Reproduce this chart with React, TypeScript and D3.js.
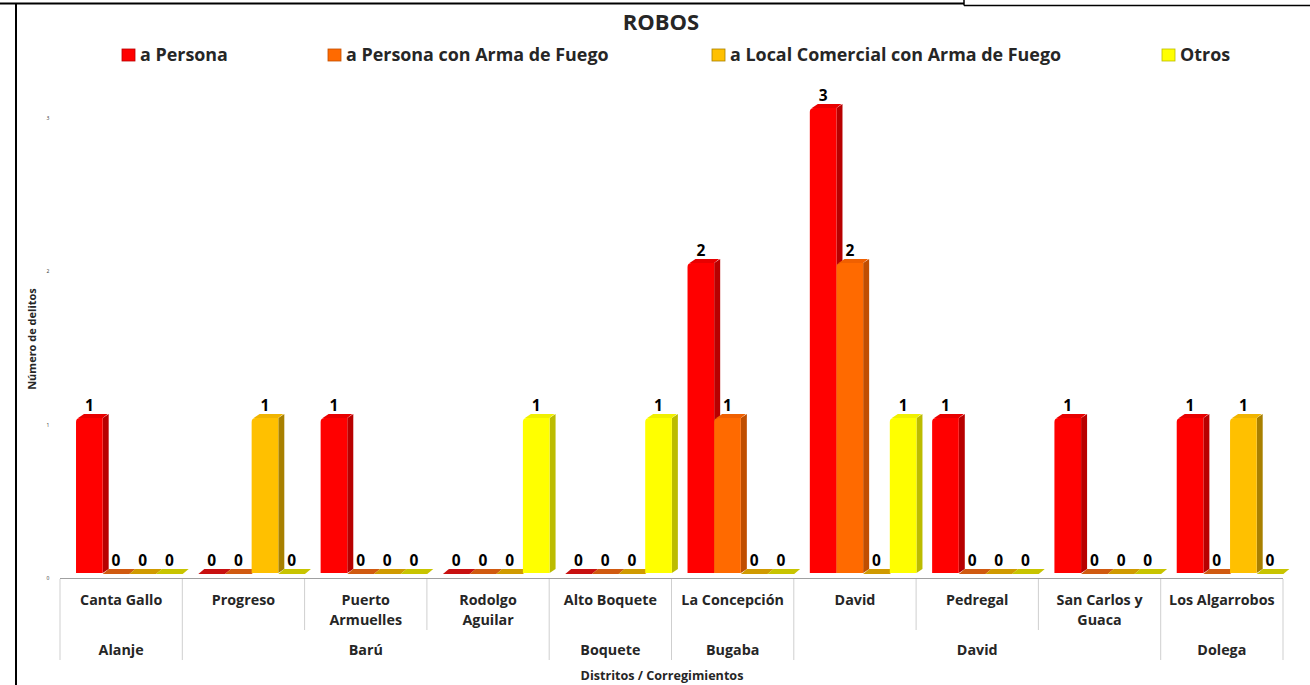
import React from 'react';
import * as d3 from 'd3';

// ---- data ----
const categories = [
  'Canta Gallo',
  'Progreso',
  'Puerto Armuelles',
  'Rodolgo Aguilar',
  'Alto Boquete',
  'La Concepción',
  'David',
  'Pedregal',
  'San Carlos y Guaca',
  'Los Algarrobos',
];
const categoryLines = [
  ['Canta Gallo'],
  ['Progreso'],
  ['Puerto', 'Armuelles'],
  ['Rodolgo', 'Aguilar'],
  ['Alto Boquete'],
  ['La Concepción'],
  ['David'],
  ['Pedregal'],
  ['San Carlos y', 'Guaca'],
  ['Los Algarrobos'],
];
const districts = ['Alanje', 'Barú', 'Boquete', 'Bugaba', 'David', 'Dolega'];
const districtSpans = [1, 3, 1, 1, 3, 1];

const seriesNames = [
  'a Persona',
  'a Persona con Arma de Fuego',
  'a Local Comercial con Arma de Fuego',
  'Otros',
];
const aPersona = [1, 0, 1, 0, 0, 2, 3, 1, 1, 1];
const aPersonaArma = [0, 0, 0, 0, 0, 1, 2, 0, 0, 0];
const localComercialArma = [0, 1, 0, 0, 0, 0, 0, 0, 0, 1];
const otros = [0, 0, 0, 1, 1, 0, 1, 0, 0, 0];
const seriesValues = [aPersona, aPersonaArma, localComercialArma, otros];

const yTicks = [0, 1, 2, 3];

// ---- styles ----
const frontColors = ['#ff0000', '#ff6a00', '#ffc000', '#ffff00'];
const sideColors = ['#b80000', '#c04e00', '#a88000', '#bcbc00'];
const topColors = ['#e80000', '#f06000', '#f0b400', '#f0f000'];
const zeroColors = ['#c81010', '#d05a10', '#d09a00', '#c8c400'];

const FONT = "'Open Sans', Lato, sans-serif";
const W = 1310;
const H = 685;
const DX = 6;
const DY = 4;

export default function App() {
  const x = d3.scaleBand<string>().domain(categories).range([60, 1283]).padding(0);
  const bw = x.bandwidth();
  const inner = d3
    .scaleBand<string>()
    .domain(seriesNames)
    .range([0.131 * bw, 1.003 * bw])
    .padding(0);
  const w = inner.bandwidth();
  const yBar = d3.scaleLinear().domain([0, 3]).range([573, 108]);
  const yWall = d3.scaleLinear().domain([0, 3]).range([578, 118]);
  const y0 = yBar(0);

  const districtBoundaryIdx = new Set<number>();
  let acc = 0;
  districtBoundaryIdx.add(0);
  districtSpans.forEach((s) => {
    acc += s;
    districtBoundaryIdx.add(acc);
  });
  const boundaries = d3.range(categories.length + 1);
  const bx = (i: number) => (i < categories.length ? (x(categories[i]) as number) : 1283);

  const districtCenters: number[] = [];
  acc = 0;
  districtSpans.forEach((s) => {
    districtCenters.push((bx(acc) + bx(acc + s)) / 2);
    acc += s;
  });

  const legendX = [122, 328, 712, 1162];

  const bars: React.ReactNode[] = [];
  const labels: React.ReactNode[] = [];
  categories.forEach((cat, ci) => {
    seriesNames.forEach((sn, si) => {
      const v = seriesValues[si][ci];
      const xl = (x(cat) as number) + (inner(sn) as number);
      const xr = xl + w;
      const yt = yBar(v);
      const key = `${ci}-${si}`;
      if (v > 0) {
        const r = 4;
        bars.push(
          <g key={key}>
            <polygon
              points={`${xr},${yt} ${xr + DX},${yt - DY} ${xr + DX},${y0 - DY} ${xr},${y0}`}
              fill={sideColors[si]}
            />
            <polygon
              points={`${xl + 2},${yt} ${xl + DX + 2},${yt - DY} ${xr + DX - 1},${yt - DY} ${xr},${yt}`}
              fill={topColors[si]}
            />
            <path
              d={`M${xl},${y0} L${xl},${yt + r} Q${xl},${yt} ${xl + r},${yt} L${xr},${yt} L${xr},${y0} Z`}
              fill={frontColors[si]}
            />
          </g>
        );
      } else {
        bars.push(
          <polygon
            key={key}
            points={`${xl},${y0 + 1} ${xl + DX},${y0 - DY} ${xr + DX},${y0 - DY} ${xr},${y0 + 1}`}
            fill={zeroColors[si]}
          />
        );
      }
      labels.push(
        <text
          key={'l' + key}
          x={xl + w / 2}
          y={yt - 7}
          textAnchor="middle"
          fontFamily={FONT}
          fontWeight="bold"
          fontSize={15.5}
          fill="#000"
        >
          {v}
        </text>
      );
    });
  });

  return (
    <svg
      width={W}
      height={H}
      style={{ position: 'absolute', left: 0, top: 0, background: '#fff' }}
    >
      <rect x={0} y={0} width={W} height={H} fill="#fff" />
      {/* frame */}
      <line x1={0} x2={964} y1={3.5} y2={3.5} stroke="#000" strokeWidth={2} />
      <line x1={964} x2={964} y1={0} y2={5.5} stroke="#000" strokeWidth={1.5} />
      <line x1={964} x2={W} y1={5.5} y2={5.5} stroke="#000" strokeWidth={1.5} />
      <line x1={16} x2={16} y1={3} y2={H} stroke="#000" strokeWidth={2} />

      {/* title */}
      <text
        x={661}
        y={30}
        textAnchor="middle"
        fontFamily={FONT}
        fontWeight="bold"
        fontSize={22}
        fill="#262626"
      >
        ROBOS
      </text>

      {/* legend */}
      {seriesNames.map((sn, i) => (
        <g key={sn}>
          <rect
            x={legendX[i]}
            y={49}
            width={13}
            height={12}
            fill={frontColors[i]}
            stroke={sideColors[i]}
            strokeWidth={0.8}
          />
          <text
            x={legendX[i] + 18}
            y={61}
            fontFamily={FONT}
            fontWeight="bold"
            fontSize={17.9}
            fill="#262626"
          >
            {sn}
          </text>
        </g>
      ))}

      {/* y axis ticks + title */}
      {yTicks.map((t) => (
        <text
          key={t}
          x={48}
          y={yWall(t)}
          textAnchor="middle"
          dominantBaseline="central"
          fontFamily={FONT}
          fontSize={5}
          fill="#333"
        >
          {t}
        </text>
      ))}
      <text
        transform={`translate(31,339) rotate(-90)`}
        textAnchor="middle"
        dominantBaseline="central"
        fontFamily={FONT}
        fontWeight="bold"
        fontSize={11}
        fill="#262626"
      >
        Número de delitos
      </text>

      {/* category axis */}
      <line x1={60} x2={1283} y1={578.5} y2={578.5} stroke="#a0a0a0" strokeWidth={1} />
      {boundaries.map((i) => (
        <line
          key={'b' + i}
          x1={bx(i)}
          x2={bx(i)}
          y1={579}
          y2={districtBoundaryIdx.has(i) ? 660 : 630}
          stroke="#cfcfcf"
          strokeWidth={1}
        />
      ))}
      {categoryLines.map((lines, ci) => (
        <text
          key={'c' + ci}
          textAnchor="middle"
          fontFamily={FONT}
          fontWeight="bold"
          fontSize={14.3}
          fill="#262626"
        >
          {lines.map((ln, li) => (
            <tspan key={li} x={(x(categories[ci]) as number) + bw / 2} y={605 + li * 20}>
              {ln}
            </tspan>
          ))}
        </text>
      ))}
      {districts.map((d, i) => (
        <text
          key={'d' + i}
          x={districtCenters[i]}
          y={655}
          textAnchor="middle"
          fontFamily={FONT}
          fontWeight="bold"
          fontSize={14.3}
          fill="#262626"
        >
          {d}
        </text>
      ))}
      <text
        x={662}
        y={680}
        textAnchor="middle"
        fontFamily={FONT}
        fontWeight="bold"
        fontSize={12.6}
        fill="#262626"
      >
        Distritos / Corregimientos
      </text>

      {/* bars */}
      {bars}
      {labels}
    </svg>
  );
}
